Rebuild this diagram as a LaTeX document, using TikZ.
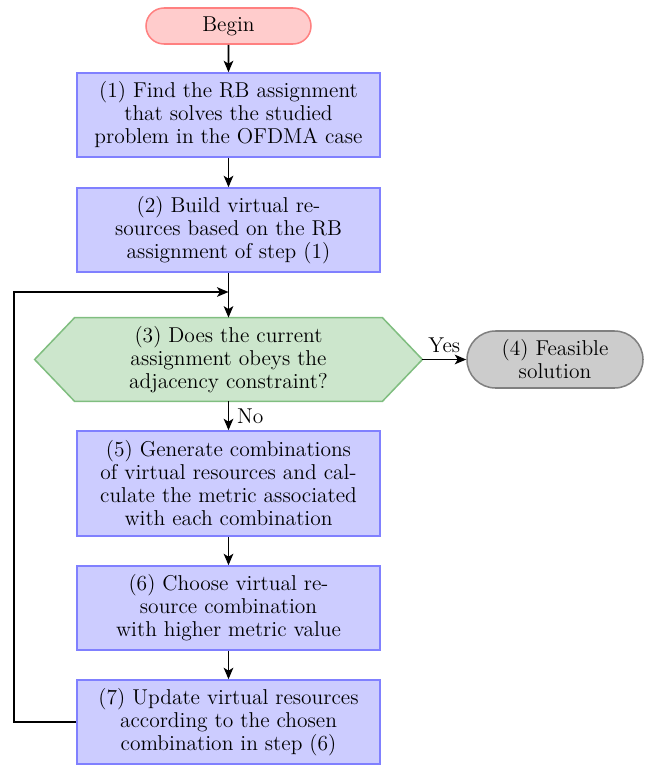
\documentclass[tikz,border=0pt]{standalone}
\usetikzlibrary{shapes.misc,arrows.meta,backgrounds}
\newcommand\pxu{0.5262pt}
\definecolor{hexfill}{RGB}{204,230,204}
\definecolor{hexdraw}{RGB}{128,190,128}
\begin{document}
\begin{tikzpicture}[x=0.5262pt,y=-0.5262pt,
  every node/.style={font=\fontsize{11.3}{12.1}\selectfont},
  proc/.style={rectangle,draw=blue!50,fill=blue!20,thick,align=center,minimum width=303*\pxu,inner sep=0pt},
  term/.style={rounded rectangle,thick,align=center,inner sep=0pt},
  conn/.style={-{Stealth[length=6pt,width=5pt,inset=1.5pt]},line width=1pt}]
\useasboundingbox (0,0) rectangle (648,765);
\node[term,draw=red!50,fill=red!20,minimum width=165*\pxu,minimum height=36*\pxu] (begin) at (228.5,26) {Begin};
\node[proc,minimum height=84*\pxu] (s1) at (228.5,115) {(1) Find the RB assignment\\that solves the studied\\problem in the OFDMA case};
\node[proc,minimum height=84*\pxu] (s2) at (228.5,230) {(2) Build virtual re-\\sources based on the RB\\assignment of step (1)};
\coordinate (m) at (228.5,292);
\node[align=center,minimum width=387*\pxu,minimum height=83*\pxu,inner sep=0pt] (s3) at (228.5,359.5) {(3) Does the current\\assignment obeys the\\adjacency constraint?};
\begin{scope}[on background layer]
\draw[thick,draw=hexdraw,fill=hexfill] ([xshift=40*\pxu]s3.north west) -- ([xshift=-40*\pxu]s3.north east) -- (s3.east) -- ([xshift=-40*\pxu]s3.south east) -- ([xshift=40*\pxu]s3.south west) -- (s3.west) -- cycle;
\end{scope}
\node[term,draw=black!50,fill=black!20,minimum width=176*\pxu,minimum height=57*\pxu] (s4) at (555,359.5) {(4) Feasible\\solution};
\node[proc,minimum height=105*\pxu] (s5) at (228.5,483.5) {(5) Generate combinations\\of virtual resources and cal-\\culate the metric associated\\with each combination};
\node[proc,minimum height=84*\pxu] (s6) at (228.5,608) {(6) Choose virtual re-\\source combination\\with higher metric value};
\node[proc,minimum height=84*\pxu] (s7) at (228.5,722) {(7) Update virtual resources\\according to the chosen\\combination in step (6)};
\coordinate (lb) at (14,722);
\coordinate (lt) at (14,292);
\draw[conn] (begin) -- (s1);
\draw[conn] (s1) -- (s2);
\draw[conn] (s2) -- (s3.north);
\draw[conn] (s3) -- node[above,inner sep=3pt] (yes) {Yes} (s4);
\draw[conn] (s3.south) -- node[right,inner sep=4pt] (no) {No} (s5);
\draw[conn] (s5) -- (s6);
\draw[conn] (s6) -- (s7);
\draw[conn] (s7.west) -- (lb) -- (lt) -- (m);
\end{tikzpicture}
\end{document}
